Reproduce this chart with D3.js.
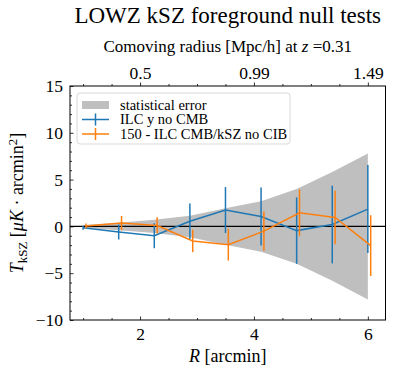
<!DOCTYPE html>
<html>
<head>
<meta charset="utf-8">
<script src="https://cdn.jsdelivr.net/npm/d3@7"></script>
<style>
  body { margin: 0; background: #fff; }
  text { font-family: "Liberation Serif", "DejaVu Serif", serif; fill: #000; }
</style>
</head>
<body>
<div id="chart"></div>
<script>
const Width = 395;
const Height = 374;

// data
const radius = [1, 1.625, 2.25, 2.875, 3.5, 4.125, 4.75, 5.375, 6];
const statErr = [0.15, 0.4, 0.7, 1.15, 1.95, 2.7, 4.0, 5.8, 7.8];
const ilcY = [-0.15, -0.6, -1.0, 0.55, 1.75, 1.05, -0.45, 0.2, 1.85];
const ilcYErr = [0.2, 0.8, 1.33, 1.9, 2.45, 3.1, 3.55, 4.15, 4.7];
const ilcCmb = [0.05, 0.35, 0.1, -1.55, -1.95, -0.5, 1.45, 0.95, -2.05];
const ilcCmbErr = [0.25, 0.77, 0.87, 1.2, 1.7, 2.1, 2.5, 2.85, 3.25];
const orangeShift = 0.05;

const xTicks = [2, 4, 6];
const topTickLabels = ["0.5", "0.99", "1.49"];
const yTicks = [-10, -5, 0, 5, 10, 15];

const pLeft = 70, pRight = 385.5, pTop = 86, pBottom = 320;

const svg = d3.select("#chart").append("svg").attr("width", Width).attr("height", Height);

const x = d3.scaleLinear().domain([0.77, 6.31]).range([pLeft, pRight]);
const y = d3.scaleLinear().domain([-10, 15]).range([pBottom, pTop]);

// grey band
const band = radius.map((r, i) => ({r, e: statErr[i]}));
svg.append("path")
    .attr("d", d3.area().x(d => x(d.r)).y0(d => y(-d.e)).y1(d => y(d.e))(band))
    .attr("fill", "#bfbfbf");

// zero line
svg.append("line")
    .attr("x1", pLeft).attr("x2", pRight)
    .attr("y1", y(0)).attr("y2", y(0))
    .attr("stroke", "black").attr("stroke-width", 1.2);

const drawSeries = (vals, errs, shift, color) => {
    const pts = radius.map((r, i) => ({r: r + shift, v: vals[i], e: errs[i]}));
    svg.append("path")
        .attr("d", d3.line().x(d => x(d.r)).y(d => y(d.v))(pts))
        .attr("fill", "none")
        .attr("stroke", color)
        .attr("stroke-width", 1.5);
    svg.append("g").selectAll("line").data(pts).join("line")
        .attr("x1", d => x(d.r)).attr("x2", d => x(d.r))
        .attr("y1", d => y(d.v - d.e)).attr("y2", d => y(d.v + d.e))
        .attr("stroke", color)
        .attr("stroke-width", 1.5);
};
drawSeries(ilcY, ilcYErr, 0, "#1f77b4");
drawSeries(ilcCmb, ilcCmbErr, orangeShift, "#ff7f0e");

// axes: bottom/left ticks inside, top (secondary) ticks outside
const xMinor = d3.range(1, 6.01, 0.5).filter(v => !xTicks.includes(v));
const yMinor = d3.range(-10, 15.01, 1).filter(v => !yTicks.includes(v));

svg.append("g").attr("transform", `translate(0,${pBottom})`)
    .call(d3.axisBottom(x).tickValues(xMinor).tickSize(-2).tickFormat(""));
svg.append("g").attr("transform", `translate(0,${pBottom})`)
    .call(d3.axisBottom(x).tickValues(xTicks).tickSize(-3.5).tickPadding(8).tickFormat(d3.format("d")));

svg.append("g").attr("transform", `translate(0,${pTop})`)
    .call(d3.axisTop(x).tickValues(xMinor).tickSize(2).tickFormat(""));
svg.append("g").attr("transform", `translate(0,${pTop})`)
    .call(d3.axisTop(x).tickValues(xTicks).tickSize(3.5).tickPadding(4)
        .tickFormat((d, i) => topTickLabels[i]));

svg.append("g").attr("transform", `translate(${pLeft},0)`)
    .call(d3.axisLeft(y).tickValues(yMinor).tickSize(-2).tickFormat(""));
svg.append("g").attr("transform", `translate(${pLeft},0)`)
    .call(d3.axisLeft(y).tickValues(yTicks).tickSize(-3.5).tickPadding(7)
        .tickFormat(d => d < 0 ? "\u2212" + Math.abs(d) : d));

svg.selectAll(".domain").attr("stroke", "none");
svg.selectAll(".tick line").attr("stroke", "black").attr("stroke-width", 0.8);
svg.selectAll(".tick text").style("font-size", "17.5px").style("font-family", "Liberation Serif");

// frame
svg.append("rect")
    .attr("x", pLeft).attr("y", pTop)
    .attr("width", pRight - pLeft).attr("height", pBottom - pTop)
    .attr("fill", "none").attr("stroke", "black").attr("stroke-width", 1);

// titles
const cx = (pLeft + pRight) / 2;
svg.append("text").attr("x", cx).attr("y", 23)
    .attr("text-anchor", "middle").style("font-size", "23px")
    .text("LOWZ kSZ foreground null tests");

const sub = svg.append("text").attr("x", cx).attr("y", 52)
    .attr("text-anchor", "middle").style("font-size", "17px");
sub.append("tspan").text("Comoving radius [Mpc/h] at ");
sub.append("tspan").style("font-style", "italic").text("z");
sub.append("tspan").text(" =0.31");

const xl = svg.append("text").attr("x", cx).attr("y", 362)
    .attr("text-anchor", "middle").style("font-size", "18px");
xl.append("tspan").style("font-style", "italic").text("R");
xl.append("tspan").text(" [arcmin]");

const yl = svg.append("text")
    .attr("transform", `translate(23,${(pTop + pBottom) / 2}) rotate(-90)`)
    .attr("text-anchor", "middle").style("font-size", "18px");
yl.append("tspan").style("font-style", "italic").text("T");
yl.append("tspan").attr("dy", 4).style("font-size", "13px").text("kSZ");
yl.append("tspan").attr("dy", -4).text(" [");
yl.append("tspan").style("font-style", "italic").text("\u03bcK");
yl.append("tspan").text(" \u00b7 arcmin");
yl.append("tspan").attr("dy", -6).style("font-size", "13px").text("2");
yl.append("tspan").attr("dy", 6).text("]");

// legend
const lg = svg.append("g").attr("transform", "translate(77,93)");
lg.append("rect").attr("width", 213).attr("height", 51).attr("rx", 3)
    .attr("fill", "white").attr("fill-opacity", 0.8)
    .attr("stroke", "#d9d9d9").attr("stroke-width", 1);
lg.append("rect").attr("x", 5).attr("y", 8).attr("width", 27).attr("height", 8).attr("fill", "#bfbfbf");
const legItems = [
    {label: "statistical error"},
    {label: "ILC y no CMB", color: "#1f77b4"},
    {label: "150 - ILC CMB/kSZ no CIB", color: "#ff7f0e"}
];
legItems.forEach((it, i) => {
    const yy = 12 + i * 14.5;
    if (it.color) {
        lg.append("line").attr("x1", 5).attr("x2", 32).attr("y1", yy).attr("y2", yy)
            .attr("stroke", it.color).attr("stroke-width", 1.5);
        lg.append("line").attr("x1", 18.5).attr("x2", 18.5).attr("y1", yy - 6).attr("y2", yy + 6)
            .attr("stroke", it.color).attr("stroke-width", 1.5);
    }
    lg.append("text").attr("x", 43).attr("y", yy + 4.5).style("font-size", "14.5px").text(it.label);
});
</script>
</body>
</html>
